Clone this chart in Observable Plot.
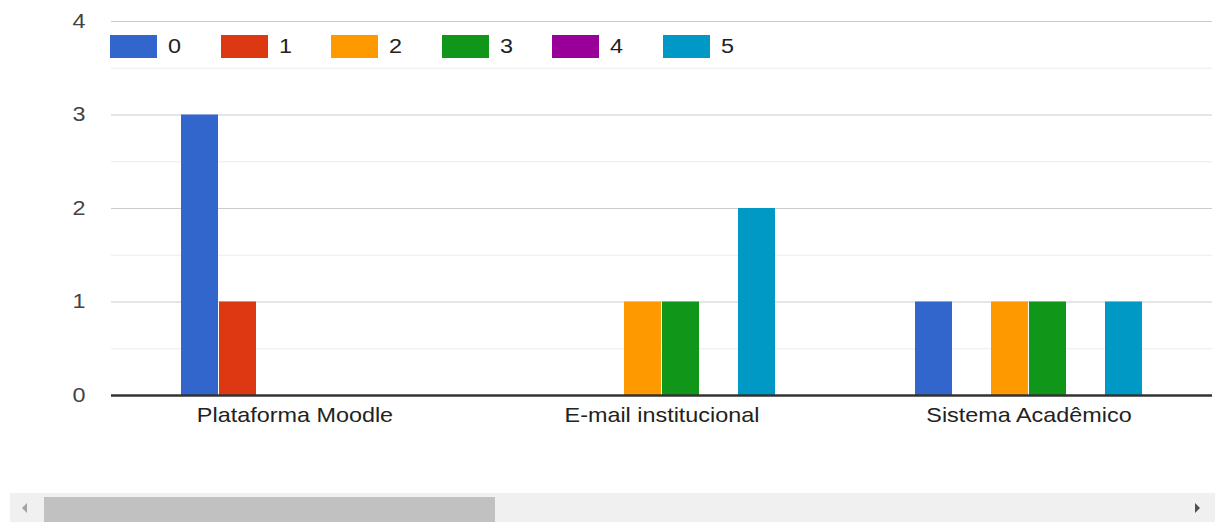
<!DOCTYPE html>
<html>
<head>
<meta charset="utf-8">
<script src="https://cdn.jsdelivr.net/npm/d3@7"></script>
<script src="https://cdn.jsdelivr.net/npm/@observablehq/plot@0.6"></script>
<style>
  html, body { margin: 0; padding: 0; background: #fff; }
  #wrap { position: relative; width: 1215px; height: 522px; overflow: hidden; font-family: Arial, "Liberation Sans", sans-serif; }
  #legend { position: absolute; top: 35px; left: 110px; display: flex; font-size: 20px; color: #222; }
  .item { display: flex; align-items: center; width: 110.5px; height: 23px; }
  .sw { width: 47px; height: 23px; margin-right: 11px; box-sizing: border-box; }
  .item span { display: inline-block; transform: scaleX(1.17); transform-origin: left center; }
  #scroll { position: absolute; left: 10px; top: 493px; width: 1205px; height: 29px; background: #f0f0f0; }
  #thumb { position: absolute; left: 34px; top: 4px; width: 451px; height: 25px; background: #c1c1c1; }
  #la { position: absolute; left: 12px; top: 10px; width: 0; height: 0; border-top: 5px solid transparent; border-bottom: 5px solid transparent; border-right: 5px solid #a3a3a3; }
  #ra { position: absolute; left: 1185px; top: 10px; width: 0; height: 0; border-top: 5px solid transparent; border-bottom: 5px solid transparent; border-left: 5px solid #505050; }
  #chart svg g[aria-label^="fx-axis"] text { fill: #222; }
</style>
</head>
<body>
<div id="wrap">
  <div id="chart"></div>
  <div id="legend"></div>
  <div id="scroll"><div id="la"></div><div id="thumb"></div><div id="ra"></div></div>
</div>
<script>
const categories = ["Plataforma Moodle", "E-mail institucional", "Sistema Acadêmico"];
const series = ["0", "1", "2", "3", "4", "5"];
const colors = ["#3366cc", "#dc3912", "#ff9900", "#109618", "#990099", "#0099c6"];
const moodleValues = [3, 1, 0, 0, 0, 0];
const emailValues = [0, 0, 1, 1, 0, 2];
const sistemaValues = [1, 0, 1, 1, 0, 1];
const yTicks = [0, 1, 2, 3, 4];
const minorTicks = [0.5, 1.5, 2.5, 3.5];
const majorTicks = [1, 2, 3, 4];

const valueSets = [moodleValues, emailValues, sistemaValues];
const data = [];
categories.forEach((c, i) => series.forEach((s, j) => data.push({category: c, series: s, value: valueSets[i][j]})));

const chart = Plot.plot({
  width: 1215,
  height: 493,
  marginLeft: 111,
  marginRight: 3,
  marginTop: 21,
  marginBottom: 98,
  style: {fontFamily: 'Arial, "Liberation Sans", sans-serif', fontSize: "20px", color: "#444", background: "#fff", overflow: "visible"},
  fx: {domain: categories, padding: 0, axis: "bottom", label: null, tickSize: 0, tickPadding: 12},
  x: {domain: series, axis: null, paddingInner: 0.026, paddingOuter: 1.84},
  y: {domain: [0, 4], ticks: yTicks, tickSize: 0, tickPadding: 26, label: null, tickFormat: d3.format("d")},
  color: {domain: series, range: colors},
  marks: [
    Plot.ruleY(minorTicks, {stroke: "#ebebeb", strokeWidth: 1}),
    Plot.ruleY(majorTicks, {stroke: "#cccccc", strokeWidth: 1}),
    Plot.barY(data.filter(d => d.value > 0), {fx: "category", x: "series", y: "value", fill: "series"}),
    Plot.ruleY([0], {stroke: "#333333", strokeWidth: 2.5})
  ]
});
document.getElementById("chart").appendChild(chart);

// widen axis text horizontally like the reference rendering
chart.querySelectorAll("text").forEach(t => {
  const b = t.getBBox();
  const anchor = t.getAttribute("text-anchor") || (t.parentNode && t.parentNode.getAttribute("text-anchor")) || getComputedStyle(t).textAnchor;
  const cx = anchor === "end" ? b.x + b.width : b.x + b.width / 2;
  const prev = t.getAttribute("transform") || "";
  t.setAttribute("transform", `${prev} translate(${cx},0) scale(1.17,1) translate(${-cx},0)`);
});

const legend = document.getElementById("legend");
series.forEach((s, i) => {
  const item = document.createElement("div");
  item.className = "item";
  const sw = document.createElement("div");
  sw.className = "sw";
  sw.style.background = colors[i];
  const t = document.createElement("span");
  t.textContent = s;
  item.appendChild(sw);
  item.appendChild(t);
  legend.appendChild(item);
});
</script>
</body>
</html>
